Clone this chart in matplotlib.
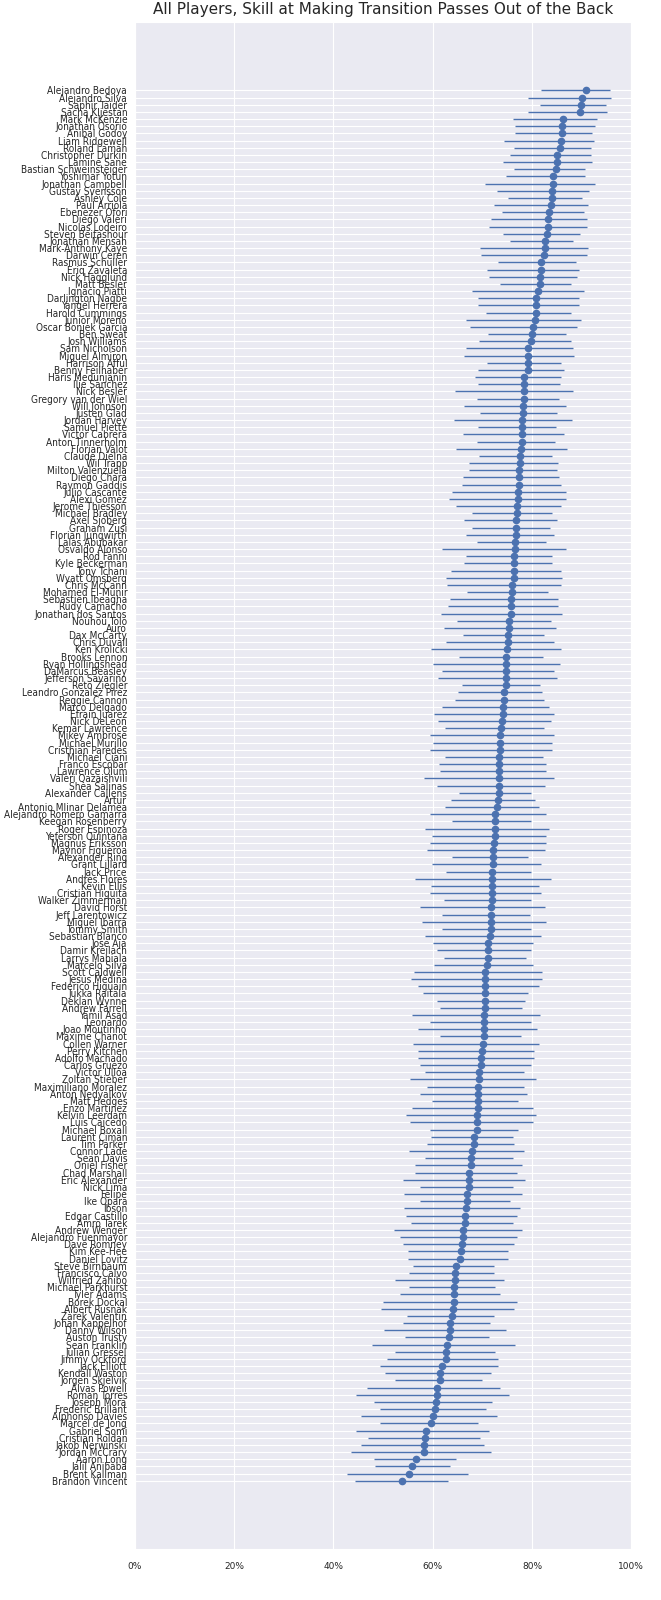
#!/usr/bin/env python3

import matplotlib
matplotlib.use("Agg")
import matplotlib.pyplot as plt
import matplotlib.ticker as ticker
from matplotlib import font_manager
import seaborn as sns

players = [
    "Alejandro Bedoya", "Alejandro Silva", "Saphir Taider", "Sacha Kljestan", "Mark McKenzie",
    "Jonathan Osorio", "Anibal Godoy", "Liam Ridgewell", "Roland Lamah", "Christopher Durkin",
    "Lamine Sane", "Bastian Schweinsteiger", "Yoshimar Yotun", "Jonathan Campbell", "Gustav Svensson",
    "Ashley Cole", "Paul Arriola", "Ebenezer Ofori", "Diego Valeri", "Nicolas Lodeiro",
    "Steven Beitashour", "Jonathan Mensah", "Mark-Anthony Kaye", "Darwin Ceren", "Rasmus Schuller",
    "Eriq Zavaleta", "Nick Hagglund", "Matt Besler", "Ignacio Piatti", "Darlington Nagbe",
    "Yangel Herrera", "Harold Cummings", "Junior Moreno", "Oscar Boniek Garcia", "Ben Sweat",
    "Josh Williams", "Sam Nicholson", "Miguel Almiron", "Harrison Afful", "Benny Feilhaber",
    "Haris Medunjanin", "Ilie Sanchez", "Nick Besler", "Gregory van der Wiel", "Will Johnson",
    "Justen Glad", "Jordan Harvey", "Samuel Piette", "Victor Cabrera", "Anton Tinnerholm",
    "Florian Valot", "Claude Dielna", "Wil Trapp", "Milton Valenzuela", "Diego Chara",
    "Raymon Gaddis", "Julio Cascante", "Alexi Gomez", "Jerome Thiesson", "Michael Bradley",
    "Axel Sjoberg", "Graham Zusi", "Florian Jungwirth", "Lalas Abubakar", "Osvaldo Alonso",
    "Rod Fanni", "Kyle Beckerman", "Tony Tchani", "Wyatt Omsberg", "Chris McCann",
    "Mohamed El-Munir", "Sebastien Ibeagha", "Rudy Camacho", "Jonathan dos Santos", "Nouhou Tolo",
    "Auro", "Dax McCarty", "Chris Duvall", "Ken Krolicki", "Brooks Lennon",
    "Ryan Hollingshead", "DaMarcus Beasley", "Jefferson Savarino", "Reto Ziegler", "Leandro Gonzalez Pirez",
    "Reggie Cannon", "Marco Delgado", "Efrain Juarez", "Nick DeLeon", "Kemar Lawrence",
    "Mikey Ambrose", "Michael Murillo", "Cristhian Paredes", "Michael Ciani", "Franco Escobar",
    "Lawrence Olum", "Valeri Qazaishvili", "Shea Salinas", "Alexander Callens", "Artur",
    "Antonio Mlinar Delamea", "Alejandro Romero Gamarra", "Keegan Rosenberry", "Roger Espinoza", "Yeferson Quintana",
    "Magnus Eriksson", "Maynor Figueroa", "Alexander Ring", "Grant Lillard", "Jack Price",
    "Andres Flores", "Kevin Ellis", "Cristian Higuita", "Walker Zimmerman", "David Horst",
    "Jeff Larentowicz", "Miguel Ibarra", "Tommy Smith", "Sebastian Blanco", "Jose Aja",
    "Damir Kreilach", "Larrys Mabiala", "Marcelo Silva", "Scott Caldwell", "Jesus Medina",
    "Federico Higuain", "Jukka Raitala", "Deklan Wynne", "Andrew Farrell", "Yamil Asad",
    "Leonardo", "Joao Moutinho", "Maxime Chanot", "Collen Warner", "Perry Kitchen",
    "Adolfo Machado", "Carlos Gruezo", "Victor Ulloa", "Zoltan Stieber", "Maximiliano Moralez",
    "Anton Nedyalkov", "Matt Hedges", "Enzo Martinez", "Kelvin Leerdam", "Luis Caicedo",
    "Michael Boxall", "Laurent Ciman", "Tim Parker", "Connor Lade", "Sean Davis",
    "Oniel Fisher", "Chad Marshall", "Eric Alexander", "Nick Lima", "Felipe",
    "Ike Opara", "Ibson", "Edgar Castillo", "Amro Tarek", "Andrew Wenger",
    "Alejandro Fuenmayor", "Dave Romney", "Kim Kee-Hee", "Daniel Lovitz", "Steve Birnbaum",
    "Francisco Calvo", "Wilfried Zahibo", "Michael Parkhurst", "Tyler Adams", "Borek Dockal",
    "Albert Rusnak", "Zarek Valentin", "Johan Kappelhof", "Danny Wilson", "Auston Trusty",
    "Sean Franklin", "Julian Gressel", "Jimmy Ockford", "Jack Elliott", "Kendall Waston",
    "Jorgen Skjelvik", "Alvas Powell", "Roman Torres", "Joseph Mora", "Frederic Brillant",
    "Alphonso Davies", "Marcel de Jong", "Gabriel Somi", "Cristian Roldan", "Jakob Nerwinski",
    "Jordan McCrary", "Aaron Long", "Jalil Anibaba", "Brent Kallman", "Brandon Vincent",
]

skill = [
    90.8, 90.1, 89.9, 89.6, 86.3, 86.1, 86.0, 85.8, 85.6, 85.1,
    85.0, 84.8, 84.2, 84.2, 84.1, 84.0, 83.8, 83.4, 83.3, 83.2,
    83.1, 82.6, 82.6, 82.4, 81.9, 81.8, 81.7, 81.7, 81.3, 80.9,
    80.9, 80.8, 80.6, 80.2, 80.0, 79.9, 79.3, 79.3, 79.3, 79.1,
    78.4, 78.4, 78.3, 78.3, 78.1, 78.1, 78.0, 77.9, 77.9, 77.9,
    77.7, 77.5, 77.5, 77.3, 77.3, 77.3, 77.1, 77.1, 76.9, 76.9,
    76.8, 76.8, 76.7, 76.6, 76.5, 76.4, 76.4, 76.4, 76.4, 76.0,
    76.0, 75.8, 75.8, 75.8, 75.4, 75.3, 75.2, 75.2, 74.9, 74.7,
    74.7, 74.7, 74.7, 74.7, 74.4, 74.4, 74.1, 74.1, 74.0, 73.8,
    73.5, 73.5, 73.5, 73.4, 73.4, 73.3, 73.3, 73.3, 73.3, 73.1,
    72.9, 72.6, 72.6, 72.6, 72.6, 72.4, 72.2, 72.2, 72.1, 72.0,
    71.9, 71.9, 71.9, 71.9, 71.7, 71.7, 71.7, 71.7, 71.5, 71.1,
    71.1, 71.1, 70.9, 70.6, 70.6, 70.6, 70.6, 70.5, 70.5, 70.4,
    70.4, 70.4, 70.4, 70.2, 69.9, 69.8, 69.8, 69.4, 69.4, 69.2,
    69.2, 69.2, 69.2, 69.0, 69.0, 68.9, 68.4, 68.3, 67.9, 67.8,
    67.8, 67.4, 67.4, 67.4, 67.0, 67.0, 66.7, 66.6, 66.6, 66.2,
    66.2, 66.0, 65.7, 65.6, 64.7, 64.4, 64.4, 64.3, 64.2, 64.2,
    64.1, 63.9, 63.4, 63.4, 63.2, 62.9, 62.7, 62.7, 61.9, 61.5,
    61.5, 60.9, 60.8, 60.6, 60.4, 60.0, 59.7, 58.7, 58.5, 58.2,
    58.2, 56.6, 55.8, 55.2, 53.8,
]

lower = [
    81.8, 79.2, 81.7, 79.2, 76.1, 76.6, 76.6, 74.4, 76.3, 75.5,
    74.2, 76.4, 74.8, 70.5, 72.9, 75.1, 72.4, 73.9, 71.7, 71.4,
    74.1, 75.5, 69.5, 69.8, 73.1, 71.0, 71.4, 73.6, 67.9, 69.2,
    69.2, 70.8, 66.8, 67.5, 71.1, 69.4, 66.8, 66.4, 70.9, 69.2,
    68.5, 69.2, 64.5, 68.9, 66.3, 69.5, 64.2, 69.2, 66.2, 68.9,
    64.6, 69.3, 67.4, 67.3, 66.1, 66.0, 63.9, 63.3, 64.6, 67.9,
    66.3, 67.9, 66.8, 68.9, 61.9, 66.8, 66.4, 63.6, 62.7, 62.9,
    66.9, 63.4, 63.0, 61.6, 64.8, 62.3, 66.2, 62.7, 59.7, 65.4,
    60.0, 61.9, 61.0, 66.0, 65.1, 64.4, 61.9, 60.3, 61.0, 62.5,
    59.5, 60.0, 59.5, 62.4, 61.2, 61.4, 58.3, 60.9, 65.4, 63.6,
    62.5, 59.4, 63.9, 58.5, 59.8, 59.4, 58.9, 63.9, 59.9, 62.7,
    56.5, 59.7, 59.4, 62.3, 57.4, 61.9, 57.9, 61.9, 58.5, 60.1,
    60.8, 62.3, 60.3, 56.3, 55.7, 57.1, 58.1, 60.9, 61.5, 55.9,
    59.4, 57.1, 61.5, 56.1, 57.1, 57.0, 57.4, 58.4, 55.4, 58.9,
    57.4, 59.9, 55.8, 54.6, 55.4, 59.4, 59.7, 58.9, 55.2, 58.4,
    56.5, 56.5, 54.0, 57.5, 54.2, 57.5, 54.2, 54.6, 55.7, 52.3,
    53.5, 54.0, 55.0, 55.0, 56.1, 55.2, 52.4, 55.2, 53.5, 49.9,
    49.6, 54.8, 54.0, 50.1, 54.4, 47.7, 52.5, 50.8, 49.4, 50.4,
    52.5, 46.7, 44.5, 48.1, 49.3, 45.5, 49.3, 44.5, 46.9, 45.5,
    43.5, 48.2, 48.3, 42.7, 44.4,
]

upper = [
    95.7, 95.9, 95.0, 95.2, 93.0, 92.6, 92.0, 92.4, 91.8, 91.8,
    92.0, 90.7, 90.7, 92.6, 91.4, 90.0, 91.3, 90.4, 91.0, 91.0,
    89.6, 88.2, 91.2, 91.0, 88.8, 89.5, 89.0, 87.8, 90.4, 89.4,
    89.4, 87.8, 89.9, 89.1, 86.9, 87.8, 88.3, 88.4, 85.9, 86.4,
    85.8, 85.7, 88.2, 85.5, 86.9, 85.0, 88.0, 84.8, 86.4, 84.7,
    87.1, 84.0, 85.3, 85.0, 85.5, 85.8, 86.8, 86.9, 85.8, 84.0,
    85.0, 83.7, 84.5, 82.8, 86.9, 84.0, 84.1, 85.9, 86.1, 85.8,
    83.3, 85.3, 85.3, 86.1, 83.8, 84.8, 82.5, 84.5, 85.8, 82.3,
    85.7, 84.5, 85.1, 81.7, 82.0, 82.5, 83.5, 84.5, 83.9, 82.5,
    84.5, 84.0, 84.1, 82.3, 82.9, 82.8, 84.5, 82.7, 79.8, 80.6,
    81.4, 82.9, 79.9, 83.5, 82.8, 82.8, 82.7, 79.1, 81.9, 79.8,
    83.8, 81.5, 81.9, 79.8, 82.7, 79.6, 82.8, 79.9, 81.9, 80.2,
    79.9, 78.8, 80.2, 82.0, 82.0, 81.4, 79.2, 78.5, 77.9, 81.7,
    79.8, 81.1, 77.7, 81.4, 80.4, 80.4, 79.9, 78.4, 80.8, 78.3,
    78.9, 77.2, 80.2, 80.8, 80.3, 77.2, 76.1, 76.4, 78.4, 76.2,
    77.9, 77.0, 78.5, 76.1, 77.9, 75.5, 77.6, 77.0, 76.1, 77.9,
    77.0, 76.4, 75.1, 75.1, 72.4, 72.3, 74.4, 72.5, 73.5, 77.0,
    76.4, 72.4, 71.5, 74.7, 71.3, 76.5, 72.5, 73.1, 73.2, 71.7,
    70.0, 73.5, 75.4, 72.0, 70.8, 72.9, 69.2, 71.3, 69.5, 70.4,
    71.7, 64.7, 63.5, 67.1, 63.1,
]

sns.set_style("darkgrid")

# the names in the original look condensed; use a condensed face if the system has one
label_font = {"family": "DejaVu Sans", "size": 6.0}
try:
    cond = font_manager.findfont(
        font_manager.FontProperties(family="DejaVu Sans", stretch="condensed"),
        fallback_to_default=False)
    if "Condensed" in cond:
        label_font = {"family": "DejaVu Sans", "stretch": "condensed", "size": 7.2}
except Exception:
    pass

fig = plt.figure(figsize=(6.61, 16), dpi=100)
ax = fig.add_axes([0.204, 0.032, 0.751, 0.954])

pos = list(range(len(players)))
x = [v / 100 for v in skill]
err_lo = [(s - l) / 100 for s, l in zip(skill, lower)]
err_hi = [(u - s) / 100 for s, u in zip(skill, upper)]

ax.errorbar(x, pos, xerr=[err_lo, err_hi], fmt="o", color="#4c72b0",
            ms=4.5, elinewidth=1.0, capsize=0)

ax.set_yticks(pos)
ax.set_yticklabels(players, fontdict=label_font)
ax.set_ylim(len(players) + 8.5, -9.5)
ax.set_xlim(0, 1)
ax.xaxis.set_major_locator(ticker.MultipleLocator(0.2))
ax.xaxis.set_major_formatter(ticker.PercentFormatter(1.0, decimals=0))
ax.tick_params(axis="x", labelsize=6.5, pad=6)
ax.tick_params(axis="y", pad=2)
ax.set_title("All Players, Skill at Making Transition Passes Out of the Back", fontsize=11)

fig.savefig("out.png", dpi=100)
